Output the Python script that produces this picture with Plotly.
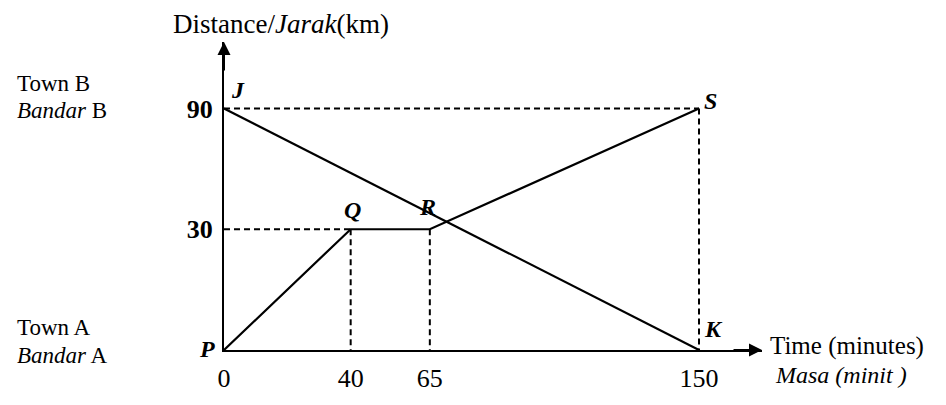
import plotly.graph_objects as go

# ---- data ----
time_ticks = [0, 40, 65, 150]
time_tick_labels = ["0", "40", "65", "150"]
dist_categories = ["0", "30", "90"]
dist_tick_vals = ["30", "90"]

# vehicle P-Q-R-S
pqrs_time = [0, 40, 65, 150]
pqrs_dist = ["0", "30", "30", "90"]
pqrs_names = ["P", "Q", "R", "S"]

# vehicle J-K
jk_time = [0, 150]
jk_dist = ["90", "0"]
jk_names = ["J", "K"]

# guide (dashed) lines: pairs of points
guide_time = [[0, 150], [0, 40], [40, 40], [65, 65], [150, 150]]
guide_dist = [["90", "90"], ["30", "30"], ["30", "0"], ["30", "0"], ["90", "0"]]

FONT = "Liberation Serif"
# page body has an 8px margin, so the figure is drawn 8px smaller
W, H = 938, 397
ML, MR, MT, MB = 216, 184, 34, 48
PW = W - ML - MR
PH = H - MT - MB
PX_PER_MIN = 475 / 150
PX_PER_CAT = 123.5


def cat(v):
    return dist_categories.index(v)


fig = go.Figure()

for gx, gy in zip(guide_time, guide_dist):
    fig.add_trace(go.Scatter(x=gx, y=gy, mode="lines",
                             line=dict(color="black", width=2, dash="6px,4px"),
                             hoverinfo="skip", showlegend=False))

fig.add_trace(go.Scatter(x=pqrs_time, y=pqrs_dist, mode="lines",
                         line=dict(color="black", width=2.2), showlegend=False))
fig.add_trace(go.Scatter(x=jk_time, y=jk_dist, mode="lines",
                         line=dict(color="black", width=2.2), showlegend=False))

# point labels
label_shift = {"P": (-17, 1), "Q": (2, 19), "R": (-2, 22), "S": (11, 7),
               "J": (14, 18), "K": (14, 21)}
anns = []
for t, d, n in list(zip(pqrs_time, pqrs_dist, pqrs_names)) + list(zip(jk_time, jk_dist, jk_names)):
    sx, sy = label_shift[n]
    anns.append(dict(x=t, y=cat(d), xref="x", yref="y", text=f"<b><i>{n}</i></b>",
                     showarrow=False, xshift=sx, yshift=sy,
                     font=dict(family=FONT, size=24, color="black")))

# axis arrows
anns.append(dict(x=1, y=0, xref="paper", yref="paper", ax=-30, ay=0,
                 axref="pixel", ayref="pixel", text="", showarrow=True,
                 arrowhead=2, arrowsize=1.3, arrowwidth=2, arrowcolor="black"))
anns.append(dict(x=0, y=1, xref="paper", yref="paper", ax=0, ay=30,
                 axref="pixel", ayref="pixel", text="", showarrow=True,
                 arrowhead=2, arrowsize=1.3, arrowwidth=2, arrowcolor="black"))

# axis titles
anns.append(dict(x=57 / PW, y=1, xref="paper", yref="paper", xanchor="center",
                 yanchor="middle", yshift=18, showarrow=False,
                 text="Distance/<i>Jarak</i>(km)",
                 font=dict(family=FONT, size=27, color="black")))
anns.append(dict(x=1 + 6 / PW, y=0, xref="paper", yref="paper", xanchor="left",
                 yanchor="middle", yshift=4, showarrow=False, text="Time (minutes)",
                 font=dict(family=FONT, size=25, color="black")))
anns.append(dict(x=1 + 11 / PW, y=0, xref="paper", yref="paper", xanchor="left",
                 yanchor="middle", yshift=-25, showarrow=False,
                 text="<i>Masa (minit )</i>",
                 font=dict(family=FONT, size=24, color="black")))

# town labels
town_x = -209 / PW
for txt, d, sy in [("Town B", "90", 25), ("<i>Bandar</i> B", "90", -2),
                   ("Town A", "0", 23), ("<i>Bandar</i> A", "0", -5)]:
    anns.append(dict(x=town_x, y=cat(d), xref="paper", yref="y", xanchor="left",
                     yanchor="middle", yshift=sy, showarrow=False, align="left",
                     text=txt, font=dict(family=FONT, size=23, color="black")))

fig.update_layout(
    width=W, height=H,
    margin=dict(l=ML, r=MR, t=MT, b=MB, pad=0),
    paper_bgcolor="white", plot_bgcolor="white",
    annotations=anns,
    xaxis=dict(range=[0, PW / PX_PER_MIN], showline=True, linewidth=2, linecolor="black",
               showgrid=False, zeroline=False, tickvals=time_ticks,
               ticktext=time_tick_labels, ticks="", ticklabelstandoff=4,
               tickfont=dict(family=FONT, size=26, color="black")),
    yaxis=dict(type="category", categoryorder="array", categoryarray=dist_categories,
               range=[0, PH / PX_PER_CAT], showline=True, linewidth=2,
               linecolor="black", showgrid=False, zeroline=False,
               tickvals=dist_tick_vals,
               ticktext=[f"<b>{v}</b>" for v in dist_tick_vals], ticks="",
               ticklabelstandoff=4,
               tickfont=dict(family=FONT, size=26, color="black")),
)

fig.write_html("out.html")
